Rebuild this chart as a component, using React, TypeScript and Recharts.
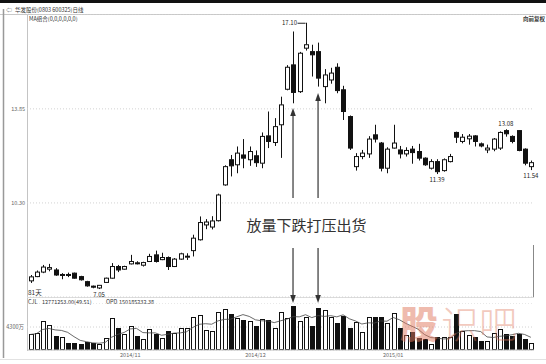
import React from 'react';
import {
  ComposedChart,
  Bar,
  Line,
  XAxis,
  YAxis,
  CartesianGrid,
  ReferenceLine,
  ReferenceDot,
} from 'recharts';

// 华发股份 daily candles, 81 trading days
const opens = [
  7.36, 7.52, 7.69, 7.8, 7.77, 7.58, 7.6, 7.65, 7.52, 7.33, 7.16, 7.09, 7.3, 7.46, 7.9, 7.8, 8.0, 8.04, 7.95, 8.09,
  8.34, 8.16, 8.24, 7.9, 8.18, 8.27, 8.5, 8.91, 9.47, 9.39, 9.63, 10.98, 11.93, 11.74, 12.11, 11.93, 12.08, 11.8, 12.83, 12.58,
  13.25, 14.59, 15.51, 14.5, 16.14, 16.01, 16.01, 14.69, 14.94, 15.42, 14.57, 13.56, 11.67, 12.05, 12.15, 12.87, 12.56, 11.61, 12.37, 12.3,
  12.15, 12.33, 12.24, 11.99, 11.61, 11.86, 11.52, 11.86, 12.96, 12.62, 12.72, 12.83, 12.53, 12.3, 12.33, 12.37, 13.03, 12.81, 13.03, 12.33,
  11.67,
];
const highs = [
  7.58, 7.75, 7.96, 8.0, 7.84, 7.65, 7.67, 7.67, 7.55, 7.36, 7.18, 7.2, 7.48, 8.03, 7.96, 7.93, 8.34, 8.1, 8.08, 8.38,
  8.5, 8.42, 8.28, 8.22, 8.42, 8.4, 9.1, 9.79, 9.69, 9.8, 10.65, 11.72, 12.11, 12.43, 12.71, 12.43, 12.28, 12.96, 13.75, 13.5,
  14.31, 15.5, 16.77, 16.0, 17.1, 16.27, 16.35, 15.35, 15.4, 15.57, 14.72, 13.6, 12.18, 12.3, 12.82, 13.25, 12.6, 12.4, 13.25, 12.45,
  12.4, 12.45, 12.53, 12.02, 11.95, 11.95, 11.98, 12.15, 12.99, 12.9, 12.9, 12.86, 12.58, 12.5, 12.75, 13.0, 13.08, 12.85, 13.05, 12.36,
  11.9,
];
const lows = [
  7.28, 7.5, 7.65, 7.72, 7.55, 7.42, 7.5, 7.44, 7.37, 7.14, 7.08, 7.05, 7.28, 7.44, 7.69, 7.78, 7.98, 7.98, 7.9, 8.07,
  8.05, 8.14, 7.77, 7.88, 8.15, 8.15, 8.28, 8.88, 9.31, 9.3, 9.6, 10.95, 11.3, 11.42, 11.61, 11.7, 11.66, 11.61, 12.37, 12.45,
  12.0, 14.55, 14.06, 14.45, 16.05, 15.07, 14.69, 14.06, 14.8, 14.44, 13.43, 12.3, 11.52, 11.95, 12.0, 12.58, 11.49, 11.42, 12.35, 11.98,
  12.05, 11.78, 11.9, 11.7, 11.56, 11.39, 11.48, 11.83, 12.56, 12.55, 12.5, 12.43, 12.4, 12.18, 12.25, 12.3, 12.8, 12.55, 12.25, 11.72,
  11.54,
];
const closes = [
  7.51, 7.69, 7.88, 7.86, 7.58, 7.6, 7.57, 7.46, 7.4, 7.17, 7.12, 7.19, 7.46, 7.9, 7.77, 7.9, 8.09, 8.02, 8.05, 8.28,
  8.09, 8.24, 7.9, 8.18, 8.38, 8.29, 8.97, 9.56, 9.58, 9.62, 10.6, 11.67, 11.7, 12.18, 11.99, 12.24, 11.82, 12.81, 12.62, 13.18,
  14.0, 15.42, 14.47, 15.95, 16.27, 15.89, 15.01, 15.13, 15.2, 14.54, 13.75, 12.37, 12.05, 12.18, 12.71, 12.71, 11.61, 12.33, 12.56, 12.15,
  12.28, 12.2, 11.99, 11.74, 11.86, 11.48, 11.93, 12.05, 12.78, 12.78, 12.82, 12.62, 12.45, 12.37, 12.71, 12.96, 12.91, 12.62, 12.28, 11.8,
  11.82,
];
// 成交量, 万股
const volumes = [
  2900, 3200, 5400, 4600, 2700, 2400, 1400, 1400, 1100, 1500, 1250, 1060, 2200, 5900, 4200, 3000, 4400, 2700, 2000, 3900,
  3000, 2200, 3600, 3100, 4100, 4100, 6200, 6500, 3700, 3600, 7200, 7600, 6700, 5900, 5700, 5500, 4400, 5800, 5700, 4200,
  7200, 5900, 8200, 5500, 6200, 4500, 7800, 7400, 6200, 5100, 6400, 4100, 5300, 3400, 6200, 6200, 6100, 5000, 6900, 4100,
  2800, 3400, 2200, 2000, 1200, 2400, 2500, 2500, 6700, 3600, 2800, 2500, 1600, 1700, 3100, 3900, 3000, 2600, 3000, 2000,
  1277.1253,
];

const monthTicks = [16, 36, 58];
const monthLabels = ['2014/11', '2014/12', '2015/01'];
const priceTicks = [10.3, 13.85];
const volumeTicks = [4300];

// labelled extremes: index + which price
const priceMarks = [
  { i: 44, field: 'high', place: 'left' },
  { i: 76, field: 'high', place: 'above' },
  { i: 11, field: 'low', place: 'below' },
  { i: 65, field: 'low', place: 'below' },
  { i: 80, field: 'low', place: 'below' },
];

// annotation arrows: candle index, tail price, tip price
const arrows = [
  { i: 42, from: 10.49, to: 13.88 },
  { i: 46, from: 10.49, to: 14.45 },
  { i: 42, from: 8.6, to: 6.52 },
  { i: 46, from: 8.6, to: 6.52 },
];

const FONT = "'Noto Sans CJK SC', 'Liberation Sans', sans-serif";

// 5-day volume average
const volumeMA = volumes.map((_, i) => {
  const win = volumes.slice(Math.max(0, i - 4), i + 1);
  return win.reduce((a, b) => a + b, 0) / win.length;
});

const data = opens.map((open, i) => ({
  i,
  open,
  high: highs[i],
  low: lows[i],
  close: closes[i],
  range: [lows[i], highs[i]],
  vol: volumes[i],
  ma: volumeMA[i],
}));

const Candle = (props: any) => {
  const { x, y, width, height, payload } = props;
  const { open, close, high, low } = payload;
  const yTop = Math.min(y, y + height);
  const h = Math.abs(height);
  const px = (v: number) => yTop + ((high - v) / (high - low)) * h;
  const cx = Math.round(x + width / 2) + 0.5;
  const up = close >= open;
  let bTop = px(Math.max(open, close));
  let bBot = px(Math.min(open, close));
  if (bBot - bTop < 1) bBot = bTop + 1;
  return (
    <g>
      <line x1={cx} y1={yTop} x2={cx} y2={bTop} stroke="#111" strokeWidth={1} />
      <line x1={cx} y1={bBot} x2={cx} y2={yTop + h} stroke="#111" strokeWidth={1} />
      <rect
        x={cx - 2}
        y={bTop}
        width={4}
        height={bBot - bTop}
        fill={up ? '#fff' : '#111'}
        stroke="#111"
        strokeWidth={1}
      />
    </g>
  );
};

const VolumeBar = (props: any) => {
  const { x, y, width, height, payload } = props;
  const up = payload.close >= payload.open;
  const cx = Math.round(x + width / 2) + 0.5;
  const top = Math.round(y) + 0.5;
  const bottom = Math.round(y + height) - 0.5;
  return (
    <rect
      x={cx - 2}
      y={top}
      width={4}
      height={Math.max(bottom - top, 1)}
      fill={up ? '#fff' : '#111'}
      stroke="#111"
      strokeWidth={1}
    />
  );
};

const Arrow = (props: any) => {
  const { x1, y1, x2, y2 } = props;
  const dir = y2 < y1 ? 1 : -1;
  return (
    <g>
      <line x1={x1} y1={y1} x2={x2} y2={y2 + dir * 6} stroke="#444" strokeWidth={1.3} />
      <polygon
        points={`${x2},${y2} ${x2 - 2.8},${y2 + dir * 8} ${x2 + 2.8},${y2 + dir * 8}`}
        fill="#333"
      />
    </g>
  );
};

const MarkLabel = (place: string, text: string) => (props: any) => {
  const { cx, cy } = props;
  if (place === 'left') {
    return (
      <g>
        <line x1={cx - 8} y1={cy + 0.5} x2={cx} y2={cy + 0.5} stroke="#222" strokeWidth={1} />
        <text x={cx - 8.5} y={cy + 2.5} textAnchor="end" fontSize={6} fontFamily={FONT} fill="#222">
          {text}
        </text>
      </g>
    );
  }
  const ty = place === 'above' ? cy - 3 : cy + 8;
  return (
    <text x={cx} y={ty} textAnchor="middle" fontSize={6} fontFamily={FONT} fill="#222">
      {text}
    </text>
  );
};

const tickStyle = { fontSize: 5.5, fill: '#666', fontFamily: FONT };

const App: React.FC = () => {
  return (
    <div
      style={{
        position: 'absolute',
        left: 0,
        top: 0,
        width: 546,
        height: 364,
        background: '#fff',
        overflow: 'hidden',
      }}
    >
      {/* frame, headers and panel captions */}
      <svg width={546} height={364} style={{ position: 'absolute', left: 0, top: 0 }}>
        <rect x={0} y={0} width={546} height={3} fill="#111" />
        <line x1={0} y1={14.5} x2={546} y2={14.5} stroke="#c8c8c8" />
        <line x1={3.5} y1={9} x2={3.5} y2={358} stroke="#999" strokeWidth={1.5} />
        <line x1={27.5} y1={14} x2={27.5} y2={351} stroke="#c4c4c4" />
        <line x1={27} y1={297.5} x2={534} y2={297.5} stroke="#dcdcdc" />
        <line x1={533.5} y1={245} x2={533.5} y2={297} stroke="#888" />
        <line x1={0} y1={359.5} x2={546} y2={359.5} stroke="#e2e2e2" />
        <text x={6} y={12} fontSize={6} fontFamily={FONT} fill="#555">⇦</text>
        <text x={15} y={12} fontSize={5.5} fontFamily={FONT} fill="#333">
          华发股份(0803 600325)日线
        </text>
        <text x={29} y={20.5} fontSize={5.5} fontFamily={FONT} fill="#333">
          MA组合(0,0,0,0,0,0)
        </text>
        <text x={545} y={21} textAnchor="end" fontSize={5.5} fontWeight="bold" fontFamily={FONT} fill="#333">
          向前复权
        </text>
        <text x={28} y={295} fontSize={6.5} fontFamily={FONT} fill="#333">81天</text>
        <text x={28} y={304} fontSize={5.5} fontFamily={FONT} fill="#333">CJL</text>
        <text x={42} y={304} fontSize={5.5} fontFamily={FONT} fill="#333">12771253.00(49.51)</text>
        <text x={106} y={304} fontSize={5.5} fontFamily={FONT} fill="#333">OPD</text>
        <text x={119} y={304} fontSize={5.5} fontFamily={FONT} fill="#333">150185232.38</text>
        <text x={306.5} y={231} textAnchor="middle" fontSize={15} fontFamily={FONT} fill="#333">
          放量下跌打压出货
        </text>
      </svg>

      {/* price panel */}
      <div style={{ position: 'absolute', left: 0, top: 14 }}>
        <ComposedChart
          width={546}
          height={296}
          data={data}
          margin={{ top: 0, right: 12, bottom: 13, left: 0 }}
        >
          <CartesianGrid vertical={false} stroke="#d2d2d2" strokeDasharray="1 2" />
          <XAxis dataKey="i" hide />
          <YAxis
            type="number"
            domain={[6.75, 17.43]}
            allowDataOverflow
            ticks={priceTicks}
            tickFormatter={(v: number) => v.toFixed(2)}
            width={27}
            tick={tickStyle}
            tickLine={false}
            axisLine={false}
            tickSize={0}
            tickMargin={2}
          />
          <Bar dataKey="range" barSize={5} shape={Candle} isAnimationActive={false} />
          {arrows.map((a, k) => (
            <ReferenceLine
              key={`arrow-${k}`}
              segment={[
                { x: a.i, y: a.from },
                { x: a.i, y: a.to },
              ]}
              ifOverflow="visible"
              shape={Arrow}
            />
          ))}
          {priceMarks.map((m) => {
            const value = m.field === 'high' ? highs[m.i] : lows[m.i];
            return (
              <ReferenceDot
                key={`mark-${m.i}`}
                x={m.i}
                y={value}
                r={0}
                ifOverflow="visible"
                shape={MarkLabel(m.place, value.toFixed(2))}
              />
            );
          })}
        </ComposedChart>
      </div>

      {/* volume panel */}
      <div style={{ position: 'absolute', left: 0, top: 303 }}>
        <ComposedChart
          width={546}
          height={61}
          data={data}
          margin={{ top: 0, right: 12, bottom: 0, left: 0 }}
        >
          <CartesianGrid vertical={false} stroke="#d2d2d2" strokeDasharray="1 2" />
          <XAxis
            dataKey="i"
            type="category"
            ticks={monthTicks}
            interval={0}
            tickFormatter={(v: number) => monthLabels[monthTicks.indexOf(v)] ?? ''}
            height={14}
            tick={tickStyle}
            tickLine={false}
            axisLine={{ stroke: '#bdbdbd' }}
            tickSize={0}
            tickMargin={3}
          />
          <YAxis
            type="number"
            domain={[0, 8790]}
            allowDataOverflow
            ticks={volumeTicks}
            tickFormatter={(v: number) => `${v}万`}
            width={27}
            tick={tickStyle}
            tickLine={false}
            axisLine={false}
            tickSize={0}
            tickMargin={3}
          />
          <Bar dataKey="vol" barSize={5} shape={VolumeBar} isAnimationActive={false} />
          <Line
            dataKey="ma"
            type="linear"
            stroke="#444"
            strokeWidth={0.8}
            dot={false}
            isAnimationActive={false}
          />
        </ComposedChart>
      </div>

      {/* site watermark */}
      <svg width={546} height={364} style={{ position: 'absolute', left: 0, top: 0, pointerEvents: 'none' }}>
        <text x={400} y={338} fontSize={38} fontWeight={900} fontFamily={FONT} fill="#e07a5f" opacity={0.5}>
          股
        </text>
        <text x={441} y={338} fontSize={38} fontWeight={300} fontFamily={FONT} fill="#e07a5f" opacity={0.4}>
          识吧
        </text>
      </svg>
    </div>
  );
};

export default App;
